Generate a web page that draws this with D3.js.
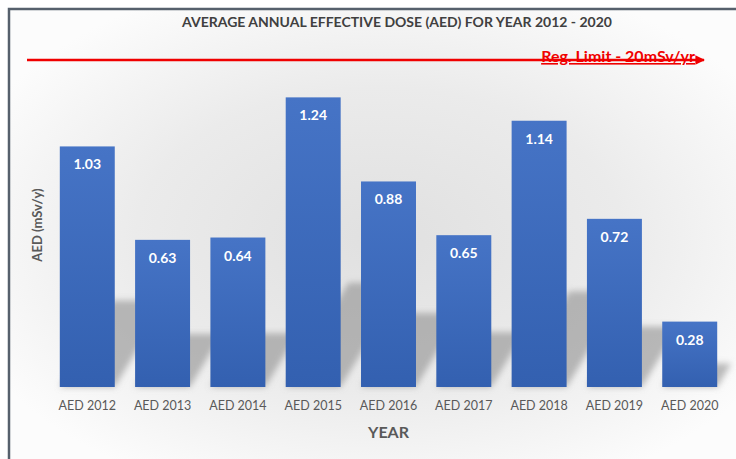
<!DOCTYPE html>
<html>
<head>
<meta charset="utf-8">
<script src="https://cdn.jsdelivr.net/npm/d3@7"></script>
<style>
  body { margin: 0; background: #ffffff; }
  svg { display: block; font-family: Lato, "Open Sans", sans-serif; }
</style>
</head>
<body>
<div id="chart"></div>
<script>
var years = ["AED 2012", "AED 2013", "AED 2014", "AED 2015", "AED 2016", "AED 2017", "AED 2018", "AED 2019", "AED 2020"];
var aed = [1.03, 0.63, 0.64, 1.24, 0.88, 0.65, 1.14, 0.72, 0.28];
var yMax = 1.4;
var limitLabel = "Reg. Limit - 20mSv/yr";

var width = 736, height = 459;
var svg = d3.select("#chart").append("svg")
  .attr("width", width).attr("height", height);

var defs = svg.append("defs");

var bg = defs.append("radialGradient").attr("id", "bg")
  .attr("cx", "50%").attr("cy", "50%").attr("r", "60%");
bg.append("stop").attr("offset", "0%").attr("stop-color", "#e0e0e0");
bg.append("stop").attr("offset", "55%").attr("stop-color", "#ebebeb");
bg.append("stop").attr("offset", "100%").attr("stop-color", "#fcfcfc");

var barGrad = defs.append("linearGradient").attr("id", "barGrad")
  .attr("x1", 0).attr("y1", 0).attr("x2", 0).attr("y2", 1);
barGrad.append("stop").attr("offset", "0%").attr("stop-color", "#4674c6");
barGrad.append("stop").attr("offset", "100%").attr("stop-color", "#3360b0");

defs.append("filter").attr("id", "blur")
  .attr("x", "-50%").attr("y", "-50%").attr("width", "200%").attr("height", "200%")
  .append("feGaussianBlur").attr("stdDeviation", 3);

defs.append("marker").attr("id", "arrow")
  .attr("viewBox", "0 0 10 10").attr("refX", 9).attr("refY", 5)
  .attr("markerWidth", 4).attr("markerHeight", 4).attr("orient", "auto")
  .append("path").attr("d", "M0,0L10,5L0,10z").attr("fill", "#f00000");

// frame
svg.append("rect")
  .attr("x", 9).attr("y", 9).attr("width", 740).attr("height", 460)
  .attr("fill", "url(#bg)")
  .attr("stroke", "#56606c").attr("stroke-width", 2.5);

var margin = { left: 50, right: 9, top: 60, bottom: 72 };
var x = d3.scaleBand().domain(years)
  .range([margin.left, width - margin.right]).paddingInner(0.27).paddingOuter(0.13);
var y = d3.scaleLinear().domain([0, yMax]).range([height - margin.bottom, margin.top]);

var base = y(0);

// shadows
svg.append("g").attr("filter", "url(#blur)")
  .selectAll("path").data(aed).join("path")
  .attr("fill", "#8f8f8f").attr("opacity", 0.6)
  .attr("d", function (d, i) {
    var x0 = x(years[i]), x1 = x0 + x.bandwidth();
    var h = (base - y(d)) * 0.36;
    var dx = h * 0.6;
    return "M" + x0 + "," + base + "L" + x1 + "," + base +
      "L" + (x1 + dx) + "," + (base - h) + "L" + (x0 + dx) + "," + (base - h) + "Z";
  });

// bars
svg.append("g").selectAll("rect").data(aed).join("rect")
  .attr("x", function (d, i) { return x(years[i]); })
  .attr("y", function (d) { return y(d); })
  .attr("width", x.bandwidth())
  .attr("height", function (d) { return base - y(d); })
  .attr("fill", "url(#barGrad)");

// value labels
svg.append("g").selectAll("text").data(aed).join("text")
  .attr("x", function (d, i) { return x(years[i]) + x.bandwidth() / 2; })
  .attr("y", function (d) { return y(d) + 23; })
  .attr("text-anchor", "middle")
  .attr("fill", "#ffffff").attr("font-weight", "bold").attr("font-size", 14)
  .text(function (d) { return d.toFixed(2); });

// x axis
var xAxis = svg.append("g")
  .attr("transform", "translate(0," + base + ")")
  .call(d3.axisBottom(x).tickSize(0).tickPadding(14));
xAxis.select(".domain").remove();
xAxis.selectAll("text")
  .attr("fill", "#595959").attr("font-size", 12.5)
  .attr("font-family", "Lato, 'Open Sans', sans-serif");

svg.append("text")
  .attr("x", x.range()[0] + (x.range()[1] - x.range()[0]) / 2).attr("y", 438)
  .attr("text-anchor", "middle")
  .attr("fill", "#595959").attr("font-weight", "bold").attr("font-size", 16)
  .text("YEAR");

svg.append("text")
  .attr("transform", "translate(42,225) rotate(-90)")
  .attr("text-anchor", "middle")
  .attr("fill", "#595959").attr("font-weight", "bold").attr("font-size", 13)
  .text("AED (mSv/y)");

// title
svg.append("text")
  .attr("x", 397).attr("y", 27)
  .attr("text-anchor", "middle")
  .attr("fill", "#404040").attr("font-weight", "bold").attr("font-size", 14)
  .text("AVERAGE ANNUAL EFFECTIVE DOSE (AED) FOR YEAR 2012 - 2020");

// regulatory limit arrow
svg.append("line")
  .attr("x1", 27).attr("x2", 704)
  .attr("y1", y(yMax)).attr("y2", y(yMax))
  .attr("stroke", "#f00000").attr("stroke-width", 2.4)
  .attr("marker-end", "url(#arrow)");

svg.append("text")
  .attr("x", 695).attr("y", y(yMax) + 2)
  .attr("text-anchor", "end")
  .attr("fill", "#f00000").attr("font-weight", "bold").attr("font-size", 16)
  .attr("text-decoration", "underline")
  .text(limitLabel);
</script>
</body>
</html>
